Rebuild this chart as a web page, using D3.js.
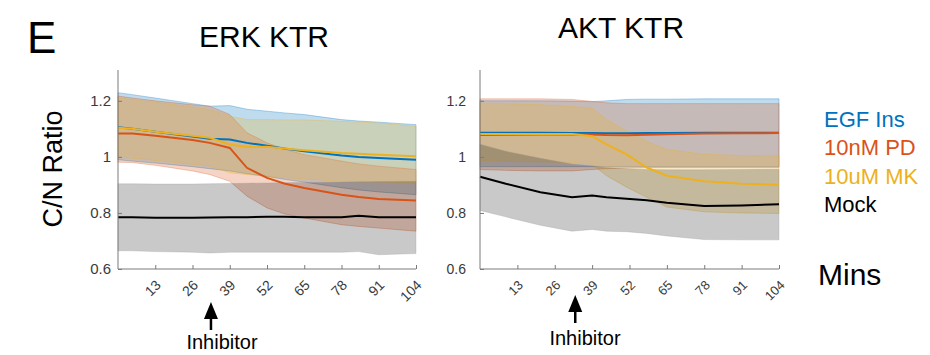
<!DOCTYPE html>
<html>
<head>
<meta charset="utf-8">
<script src="https://cdn.jsdelivr.net/npm/d3@7"></script>
<style>
  body { margin: 0; background: #fff; }
  text { font-family: "Liberation Sans", Arial, sans-serif; }
  .axis path, .axis line { stroke: #7a7a7a; }
  .axis text { fill: #3a3a3a; }
</style>
</head>
<body>
<div id="chart"></div>
<script>
// time points (mins)
var timesErk = [0, 5, 13, 26, 32, 39, 45, 52, 58, 65, 78, 84, 91, 104]
var timesAkt = [0, 9, 21, 32, 39, 44, 51, 58, 65, 78, 91, 104]
var xTicks = [13, 26, 39, 52, 65, 78, 91, 104]
var yTicks = [0.6, 0.8, 1, 1.2]
var conditions = ["EGF Ins", "10nM PD", "10uM MK", "Mock"]
var colors = ["#0072BD", "#D95319", "#EDB120", "#000000"]

// ERK KTR: mean, upper, lower
var erkEgf   = [1.106, 1.100, 1.090, 1.073, 1.065, 1.062, 1.050, 1.040, 1.030, 1.020, 1.005, 1.000, 0.996, 0.990]
var erkEgfHi = [1.229, 1.222, 1.210, 1.190, 1.181, 1.183, 1.170, 1.163, 1.157, 1.151, 1.133, 1.128, 1.124, 1.115]
var erkEgfLo = [0.990, 0.985, 0.978, 0.965, 0.958, 0.950, 0.940, 0.930, 0.920, 0.910, 0.890, 0.882, 0.875, 0.865]
var erkPd    = [1.083, 1.083, 1.075, 1.060, 1.050, 1.032, 0.961, 0.925, 0.905, 0.889, 0.865, 0.857, 0.850, 0.844]
var erkPdHi  = [1.217, 1.210, 1.200, 1.186, 1.181, 1.151, 1.086, 1.050, 1.028, 1.008, 0.985, 0.975, 0.967, 0.955]
var erkPdLo  = [0.981, 0.980, 0.970, 0.950, 0.937, 0.913, 0.860, 0.818, 0.797, 0.782, 0.758, 0.752, 0.746, 0.735]
var erkMk    = [1.104, 1.100, 1.090, 1.075, 1.068, 1.044, 1.035, 1.036, 1.030, 1.024, 1.014, 1.011, 1.008, 1.002]
var erkMkHi  = [1.211, 1.205, 1.195, 1.178, 1.169, 1.145, 1.133, 1.133, 1.132, 1.132, 1.127, 1.124, 1.121, 1.109]
var erkMkLo  = [1.000, 0.995, 0.987, 0.973, 0.967, 0.943, 0.937, 0.931, 0.926, 0.921, 0.913, 0.911, 0.910, 0.907]
var erkMock   = [0.785, 0.785, 0.783, 0.783, 0.784, 0.785, 0.785, 0.786, 0.786, 0.785, 0.785, 0.790, 0.785, 0.785]
var erkMockHi = [0.904, 0.904, 0.903, 0.903, 0.904, 0.905, 0.906, 0.907, 0.908, 0.909, 0.910, 0.911, 0.912, 0.913]
var erkMockLo = [0.665, 0.665, 0.662, 0.660, 0.657, 0.660, 0.660, 0.660, 0.660, 0.660, 0.660, 0.662, 0.651, 0.655]

// AKT KTR: mean, upper, lower
var aktEgf   = [1.086, 1.086, 1.086, 1.085, 1.085, 1.084, 1.084, 1.085, 1.085, 1.086, 1.086, 1.086]
var aktEgfHi = [1.200, 1.200, 1.200, 1.199, 1.197, 1.200, 1.205, 1.206, 1.206, 1.207, 1.207, 1.207]
var aktEgfLo = [0.965, 0.965, 0.965, 0.965, 0.965, 0.965, 0.965, 0.965, 0.965, 0.965, 0.965, 0.965]
var aktPd    = [1.078, 1.079, 1.080, 1.080, 1.080, 1.078, 1.077, 1.079, 1.081, 1.083, 1.084, 1.085]
var aktPdHi  = [1.207, 1.207, 1.207, 1.205, 1.198, 1.193, 1.190, 1.190, 1.190, 1.190, 1.190, 1.190]
var aktPdLo  = [0.955, 0.952, 0.950, 0.950, 0.955, 0.958, 0.960, 0.962, 0.962, 0.962, 0.962, 0.962]
var aktMk    = [1.082, 1.082, 1.082, 1.082, 1.074, 1.045, 1.009, 0.962, 0.933, 0.913, 0.904, 0.901]
var aktMkHi  = [1.192, 1.190, 1.186, 1.180, 1.174, 1.133, 1.092, 1.056, 1.027, 1.009, 1.005, 1.004]
var aktMkLo  = [0.986, 0.984, 0.982, 0.980, 0.974, 0.933, 0.892, 0.856, 0.821, 0.804, 0.800, 0.798]
var aktMock   = [0.929, 0.904, 0.874, 0.856, 0.862, 0.856, 0.851, 0.845, 0.836, 0.825, 0.827, 0.831]
var aktMockHi = [1.045, 1.020, 0.995, 0.975, 0.968, 0.962, 0.958, 0.955, 0.954, 0.954, 0.955, 0.956]
var aktMockLo = [0.809, 0.786, 0.756, 0.735, 0.741, 0.735, 0.733, 0.727, 0.718, 0.705, 0.704, 0.704]

var inhibitorTime = 30

var svg = d3.select("#chart").append("svg")
  .attr("width", 930)
  .attr("height", 355)

function drawPanel(p) {
  var x = d3.scaleLinear().domain([0, 104]).range([p.left, p.right])
  var y = d3.scaleLinear().domain([0.6, 1.31]).range([269, 70])
  var g = svg.append("g")

  var series = p.means.map(function (m, i) {
    return p.times.map(function (t, j) {
      return { t: t, m: m[j], hi: p.his[i][j], lo: p.los[i][j] }
    })
  })

  var area = d3.area()
    .x(function (d) { return x(d.t) })
    .y0(function (d) { return y(d.lo) })
    .y1(function (d) { return y(d.hi) })

  var line = d3.line()
    .x(function (d) { return x(d.t) })
    .y(function (d) { return y(d.m) })

  // shaded bands first
  series.forEach(function (s, i) {
    g.append("path")
      .datum(s)
      .attr("d", area)
      .attr("fill", i == 3 ? "#000" : colors[i])
      .attr("fill-opacity", i == 3 ? 0.21 : 0.25)
      .attr("stroke", i == 3 ? "#999" : colors[i])
      .attr("stroke-opacity", 0.3)
      .attr("stroke-width", 1)
  })

  series.forEach(function (s, i) {
    g.append("path")
      .datum(s)
      .attr("d", line)
      .attr("fill", "none")
      .attr("stroke", colors[i])
      .attr("stroke-width", 2)
  })

  var xAxis = d3.axisBottom(x).tickValues(xTicks).tickSizeInner(-4).tickSizeOuter(0).tickFormat(d3.format("d"))
  var xg = g.append("g")
    .attr("class", "axis")
    .attr("transform", "translate(0,269)")
    .call(xAxis)
  xg.select(".domain").attr("d", "M" + p.left + ",0H" + p.right)
  xg.selectAll("text")
    .attr("font-size", p.tickFont)
    .attr("text-anchor", "end")
    .attr("dy", 0)
    .attr("transform", "translate(6,17) rotate(-45)")
    .attr("y", 0)
    .attr("x", 0)

  var yAxis = d3.axisLeft(y).tickValues(yTicks).tickSizeInner(-4).tickSizeOuter(0).tickPadding(p.yPad)
    .tickFormat(function (d) { return d == 1 ? "1" : d3.format(".1f")(d) })
  var yg = g.append("g")
    .attr("class", "axis")
    .attr("transform", "translate(" + p.left + ",0)")
    .call(yAxis)
  yg.select(".domain").attr("d", "M0,70V269")
  yg.selectAll("text").attr("font-size", p.yFont)

  g.append("text")
    .attr("x", p.titleX)
    .attr("y", p.titleY)
    .attr("text-anchor", "middle")
    .attr("font-size", 30)
    .text(p.title)

  // inhibitor arrow
  var ax = x(inhibitorTime) + p.arrowShift
  g.append("line")
    .attr("x1", ax).attr("x2", ax)
    .attr("y1", p.arrowTip + 14).attr("y2", p.arrowTip + 28)
    .attr("stroke", "#000").attr("stroke-width", 2.5)
  g.append("path")
    .attr("d", "M" + ax + "," + p.arrowTip + "L" + (ax - 7) + "," + (p.arrowTip + 17) + "L" + (ax + 7) + "," + (p.arrowTip + 17) + "Z")
    .attr("fill", "#000")
  g.append("text")
    .attr("x", p.inhibX)
    .attr("y", p.inhibY)
    .attr("text-anchor", "middle")
    .attr("font-size", 20)
    .text("Inhibitor")
}

drawPanel({
  left: 118, right: 416, times: timesErk,
  means: [erkEgf, erkPd, erkMk, erkMock],
  his: [erkEgfHi, erkPdHi, erkMkHi, erkMockHi],
  los: [erkEgfLo, erkPdLo, erkMkLo, erkMockLo],
  title: "ERK KTR", titleX: 264, titleY: 47,
  tickFont: 14, yFont: 15, yPad: 7,
  arrowShift: 7, arrowTip: 302, inhibX: 222, inhibY: 349
})

drawPanel({
  left: 480, right: 779, times: timesAkt,
  means: [aktEgf, aktPd, aktMk, aktMock],
  his: [aktEgfHi, aktPdHi, aktMkHi, aktMockHi],
  los: [aktEgfLo, aktPdLo, aktMkLo, aktMockLo],
  title: "AKT KTR", titleX: 621, titleY: 38,
  tickFont: 13, yFont: 14, yPad: 14,
  arrowShift: 9, arrowTip: 295, inhibX: 585, inhibY: 345
})

svg.append("text")
  .attr("x", 27).attr("y", 53)
  .attr("font-size", 44)
  .text("E")

svg.append("text")
  .attr("transform", "translate(62,169) rotate(-90)")
  .attr("text-anchor", "middle")
  .attr("font-size", 27)
  .text("C/N Ratio")

var legend = svg.append("g")
conditions.forEach(function (c, i) {
  legend.append("text")
    .attr("x", 824)
    .attr("y", 127 + i * 28.3)
    .attr("font-size", 22)
    .attr("fill", colors[i])
    .text(c)
})

svg.append("text")
  .attr("x", 818).attr("y", 285)
  .attr("font-size", 30)
  .text("Mins")
</script>
</body>
</html>
